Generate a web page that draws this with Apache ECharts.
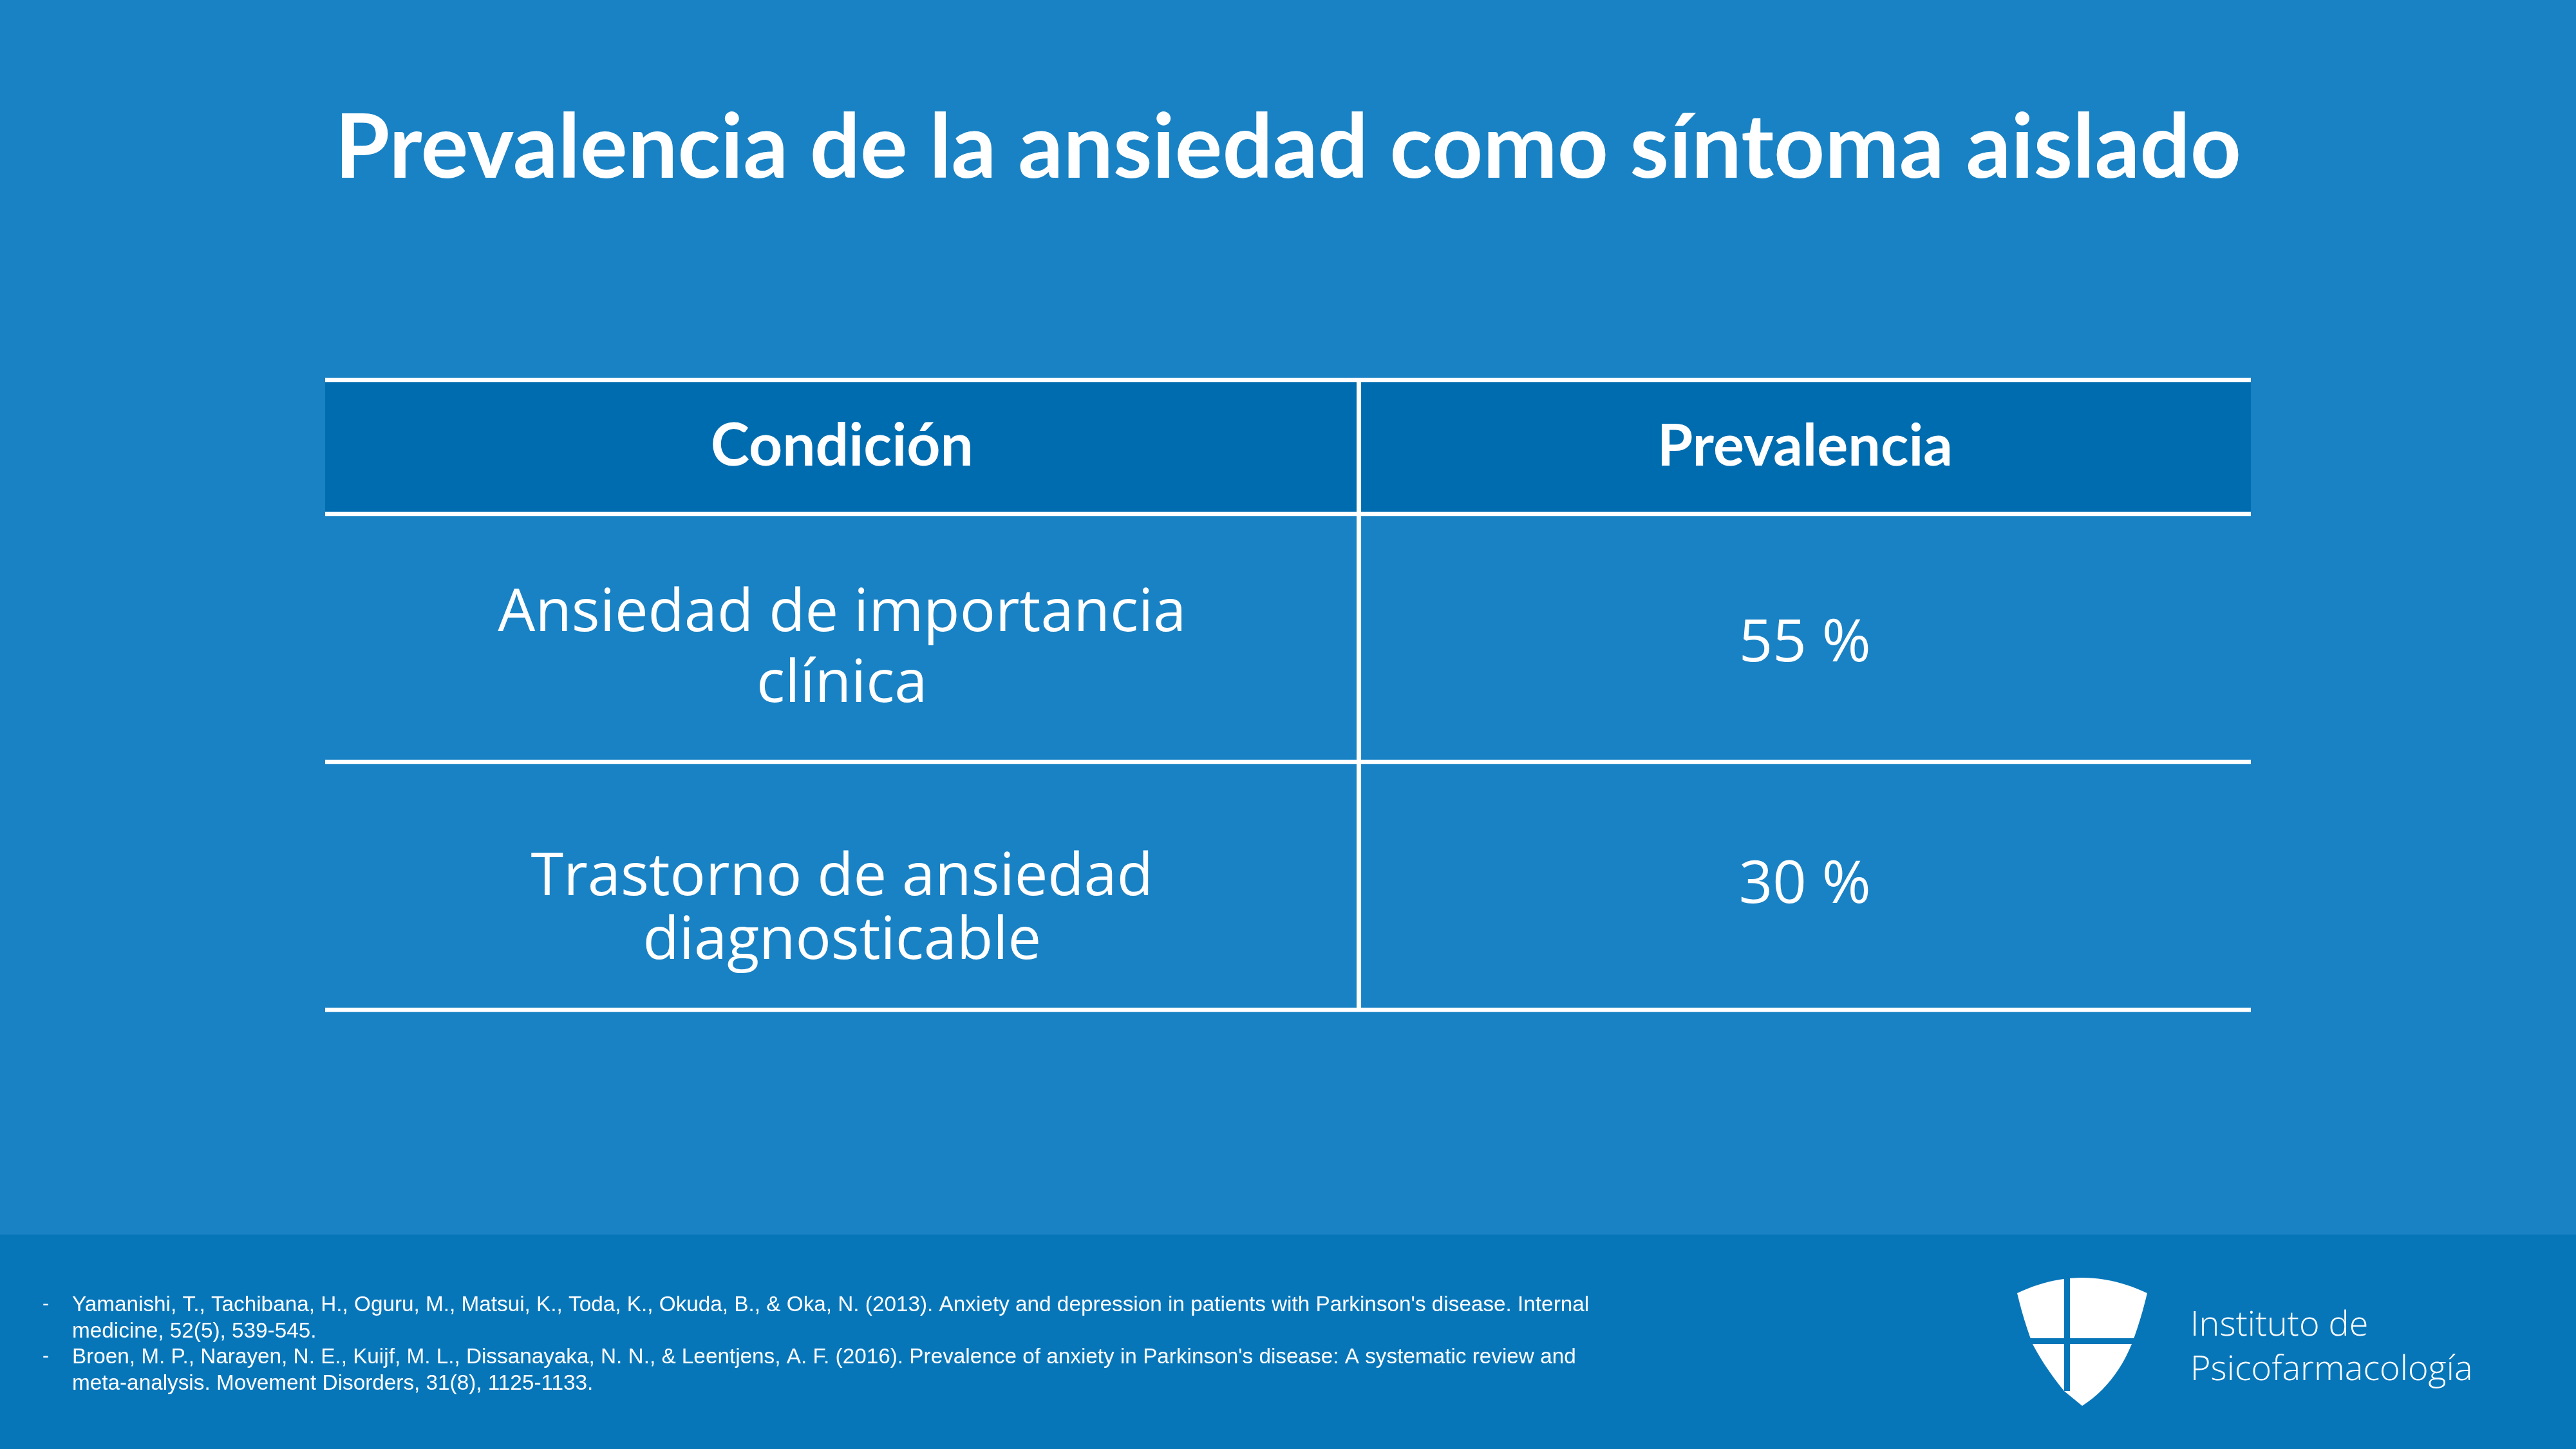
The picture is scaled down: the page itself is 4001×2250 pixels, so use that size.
<!DOCTYPE html>
<html>
<head>
<meta charset="utf-8">
<script src="https://cdn.jsdelivr.net/npm/echarts@6/dist/echarts.min.js"></script>
<style>
html,body{margin:0;padding:0;background:#1982c4;}
#chart{width:4001px;height:2250px;}
</style>
</head>
<body>
<div id="chart"></div>
<script>
// ---- data ----
const TITLE = 'Prevalencia de la ansiedad como síntoma aislado';
const columns = ['Condición', 'Prevalencia'];
const conditions = ['Ansiedad de importancia\nclínica', 'Trastorno de ansiedad\ndiagnosticable'];
const prevalence = [55, 30]; // percent
const references = [
  'Yamanishi, T., Tachibana, H., Oguru, M., Matsui, K., Toda, K., Okuda, B., & Oka, N. (2013). Anxiety and depression in patients with Parkinson\'s disease. Internal\nmedicine, 52(5), 539-545.',
  'Broen, M. P., Narayen, N. E., Kuijf, M. L., Dissanayaka, N. N., & Leentjens, A. F. (2016). Prevalence of anxiety in Parkinson\'s disease: A systematic review and\nmeta-analysis. Movement Disorders, 31(8), 1125-1133.'
];
const logoLines = ['Instituto de', 'Psicofarmacología'];

// ---- layout ----
const BG = '#1982c4', FOOT = '#0776b9', HEAD = '#006cb0';
const COL_EDGES = [0, 0.5368, 1];
const ROW_EDGES = [0, 0.2127, 0.6063, 1];
const BODY_OFFSET = [[0, 18, 38], [0, 10, 0]]; // per column, per row text shift (px)
const LINE_H = [0, 110, 99];
const HEAD_FONT = [91, 90];

// shield outline sampled from a few curve segments (logo decoration)
function quad(p0, c, p1, n) {
  const pts = [];
  for (let i = 0; i <= n; i++) {
    const t = i / n, u = 1 - t;
    pts.push([u * u * p0[0] + 2 * u * t * c[0] + t * t * p1[0], u * u * p0[1] + 2 * u * t * c[1] + t * t * p1[1]]);
  }
  return pts;
}
const shieldPts = [].concat(
  quad([3133, 2008], [3234, 1960], [3335, 2008], 24),
  quad([3335, 2008], [3325, 2050], [3311, 2087], 6),
  quad([3311, 2087], [3285, 2150], [3234, 2183], 12),
  [[3206, 2160]],
  quad([3206, 2160], [3175, 2122], [3157, 2087], 10),
  quad([3157, 2087], [3143, 2050], [3133, 2008], 6)
);

const chart = echarts.init(document.getElementById('chart'), null, {renderer: 'canvas'});

const cellData = [];
for (let r = 0; r <= conditions.length; r++) for (let c = 0; c < columns.length; c++) cellData.push([c, r]);

function cellText(c, r) {
  if (r === 0) return columns[c];
  return c === 0 ? conditions[r - 1] : prevalence[r - 1] + ' %';
}

const ruleData = [];
ROW_EDGES.forEach((v, i) => ruleData.push([0, i]));
ruleData.push([1, 1]);

const refGraphics = [];
references.forEach((ref, i) => {
  refGraphics.push({type: 'text', x: 66, y: 2011 + i * 81, style: {text: '-', font: '30px "Liberation Sans"', fill: '#fff', verticalAlign: 'top'}});
  refGraphics.push({type: 'text', x: 112, y: 2007 + i * 81, style: {text: ref, font: '33.3px "Liberation Sans"', lineHeight: 40.5, fill: '#fff', verticalAlign: 'top'}});
});

const option = {
  backgroundColor: BG,
  animation: false,
  title: {
    text: TITLE, left: 'center', top: 157,
    textStyle: {fontFamily: 'Lato', fontWeight: 'bold', fontSize: 138, color: '#fff'}
  },
  grid: {left: 505, top: 590, width: 2991, height: 978},
  xAxis: {type: 'value', min: 0, max: 1, show: false},
  yAxis: {type: 'value', min: 0, max: 1, inverse: true, show: false},
  graphic: [
    {type: 'rect', shape: {x: 0, y: 1917, width: 4001, height: 333}, style: {fill: FOOT}, z: -10},
    ...refGraphics,
    {type: 'polygon', shape: {points: shieldPts}, style: {fill: '#fff'}, z: 5},
    {type: 'rect', shape: {x: 3206, y: 1970, width: 9, height: 190}, style: {fill: FOOT}, z: 10},
    {type: 'rect', shape: {x: 3120, y: 2078, width: 230, height: 9}, style: {fill: FOOT}, z: 10},
    {type: 'text', x: 3402, y: 2024, style: {text: logoLines.join('\n'), font: '300 54px "Open Sans"', lineHeight: 69, fill: '#fff', verticalAlign: 'top'}}
  ],
  series: [
    {
      type: 'custom',
      data: cellData,
      z: 2,
      renderItem: function (params, api) {
        const c = api.value(0), r = api.value(1);
        const p0 = api.coord([COL_EDGES[c], ROW_EDGES[r]]);
        const p1 = api.coord([COL_EDGES[c + 1], ROW_EDGES[r + 1]]);
        const children = [];
        if (r === 0) {
          children.push({type: 'rect', shape: {x: p0[0], y: p0[1], width: p1[0] - p0[0], height: p1[1] - p0[1]}, style: {fill: HEAD}});
        }
        const cx = (p0[0] + p1[0]) / 2, cy = (p0[1] + p1[1]) / 2 + BODY_OFFSET[c][r];
        children.push({
          type: 'text',
          style: {
            x: cx, y: cy, text: cellText(c, r),
            align: 'center', verticalAlign: 'middle',
            font: r === 0 ? 'bold ' + HEAD_FONT[c] + 'px Lato' : '92px "Open Sans"',
            lineHeight: r === 0 ? 100 : LINE_H[r],
            fill: '#fff'
          }
        });
        return {type: 'group', children: children};
      }
    },
    {
      type: 'custom',
      data: ruleData,
      z: 5,
      renderItem: function (params, api) {
        const kind = api.value(0), idx = api.value(1);
        let a, b;
        if (kind === 0) {
          a = api.coord([0, ROW_EDGES[idx]]); b = api.coord([1, ROW_EDGES[idx]]);
        } else {
          a = api.coord([COL_EDGES[idx], 0]); b = api.coord([COL_EDGES[idx], 1]);
        }
        return {type: 'line', shape: {x1: a[0], y1: a[1], x2: b[0], y2: b[1]}, style: {stroke: '#fff', lineWidth: kind === 0 ? 6.5 : 7}};
      }
    }
  ]
};
chart.setOption(option);
</script>
</body>
</html>
